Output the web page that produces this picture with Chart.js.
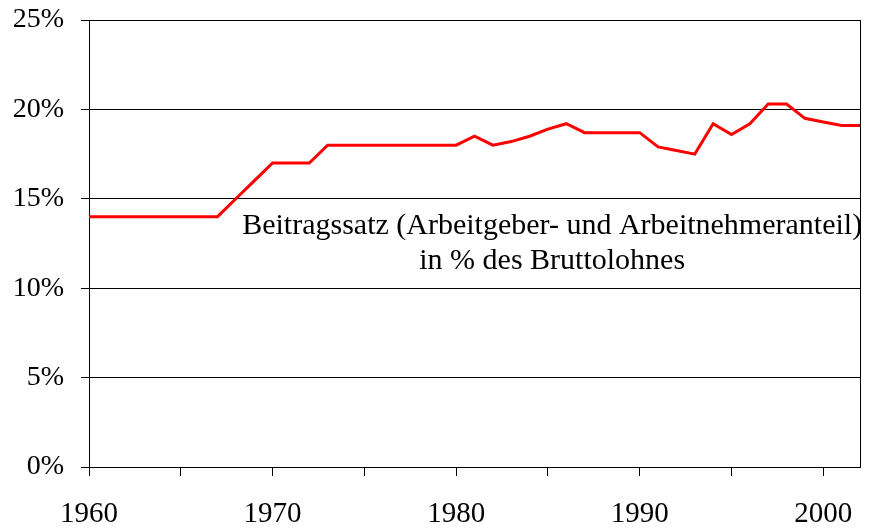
<!DOCTYPE html>
<html>
<head>
<meta charset="utf-8">
<script src="https://cdn.jsdelivr.net/npm/chart.js@4"></script>
<style>
  html, body { margin: 0; padding: 0; background: #fff; }
  #chart { display: block; }
</style>
</head>
<body>
<canvas id="chart" width="871" height="531"></canvas>
<script>
const years = [1960, 1961, 1962, 1963, 1964, 1965, 1966, 1967, 1968, 1969,
  1970, 1971, 1972, 1973, 1974, 1975, 1976, 1977, 1978, 1979,
  1980, 1981, 1982, 1983, 1984, 1985, 1986, 1987, 1988, 1989,
  1990, 1991, 1992, 1993, 1994, 1995, 1996, 1997, 1998, 1999,
  2000, 2001, 2002];
const rates = [14, 14, 14, 14, 14, 14, 14, 14, 15, 16,
  17, 17, 17, 18, 18, 18, 18, 18, 18, 18,
  18, 18.5, 18, 18.2, 18.5, 18.9, 19.2, 18.7, 18.7, 18.7,
  18.7, 17.9, 17.7, 17.5, 19.2, 18.6, 19.2, 20.3, 20.3, 19.5,
  19.3, 19.1, 19.1];
const yTicks = [0, 5, 10, 15, 20, 25];
const xTicks = [1960, 1965, 1970, 1975, 1980, 1985, 1990, 1995, 2000];
const noteLines = ["Beitragssatz (Arbeitgeber- und Arbeitnehmeranteil)", "in % des Bruttolohnes"];

const serif = '"Liberation Serif", "Times New Roman", serif';

// text inside the plot, placed in data coordinates
const notePlugin = {
  id: "note",
  afterDatasetsDraw(chart) {
    const ctx = chart.ctx;
    const x = chart.scales.x, y = chart.scales.y;
    ctx.save();
    ctx.font = "30px " + serif;
    ctx.fillStyle = "#000";
    ctx.textAlign = "center";
    ctx.textBaseline = "alphabetic";
    ctx.fillText(noteLines[0], x.getPixelForValue(1985.23), y.getPixelForValue(13.03));
    ctx.fillText(noteLines[1], x.getPixelForValue(1985.23), y.getPixelForValue(11.07));
    ctx.restore();
  }
};

// drop the label overhang so the plot box sits where the layout padding puts it
const noOverhang = s => {
  s.paddingTop = 0;
  s.paddingBottom = 0;
  s.paddingLeft = 0;
  s.paddingRight = 0;
};

new Chart(document.getElementById("chart"), {
  type: "line",
  data: {
    datasets: [{
      data: years.map((yr, i) => ({ x: yr, y: rates[i] })),
      borderColor: "#ff0000",
      borderWidth: 3,
      pointRadius: 0,
      tension: 0,
      fill: false
    }]
  },
  options: {
    responsive: false,
    animation: false,
    layout: { padding: { top: 20, right: 11, left: 0, bottom: 0 } },
    plugins: { legend: { display: false }, tooltip: { enabled: false } },
    scales: {
      x: {
        type: "linear",
        min: 1960,
        max: 2002,
        afterBuildTicks: s => { s.ticks = xTicks.map(v => ({ value: v })); },
        afterFit: s => { s.height = 64; noOverhang(s); },
        ticks: {
          callback: v => (v % 10 === 0 ? String(v) : ""),
          autoSkip: false,
          maxRotation: 0,
          padding: 21,
          color: "#000",
          font: { family: serif, size: 29 }
        },
        grid: { drawOnChartArea: false, drawTicks: true, tickLength: 9, color: "#000", lineWidth: 1 },
        border: { display: true, color: "#000", width: 1 }
      },
      y: {
        min: 0,
        max: 25,
        afterBuildTicks: s => { s.ticks = yTicks.map(v => ({ value: v })); },
        afterFit: s => { s.width = 89; noOverhang(s); },
        ticks: {
          callback: v => v + "%",
          padding: 17,
          color: "#000",
          font: { family: serif, size: 28 }
        },
        grid: { color: "#000", lineWidth: 1, tickLength: 8, drawTicks: true },
        border: { display: true, color: "#000", width: 1 }
      },
      y2: {
        position: "right",
        min: 0,
        max: 25,
        afterFit: s => { s.width = 0; noOverhang(s); },
        ticks: { display: false },
        grid: { drawOnChartArea: false, drawTicks: false },
        border: { display: true, color: "#000", width: 1 }
      }
    }
  },
  plugins: [notePlugin]
});
</script>
</body>
</html>
